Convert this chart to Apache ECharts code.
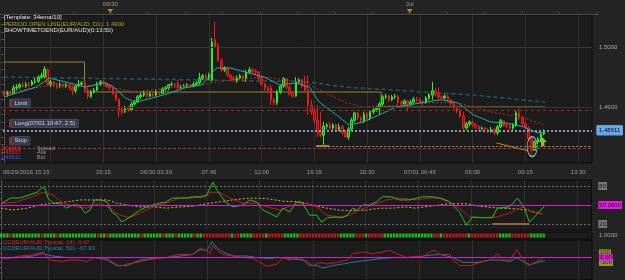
<!DOCTYPE html>
<html><head><meta charset="utf-8">
<script src="https://cdn.jsdelivr.net/npm/echarts@6/dist/echarts.min.js"></script>
<style>html,body{margin:0;padding:0;background:#242424}#c{width:625px;height:280px}</style>
</head><body><div id="c"></div><script>
// ---------- data ----------
const timeLabels = ['06/29/2016 15:15','23:15','06/30 03:30','07:45','12:00','16:15','20:30','07/01 00:45','05:00','09:15','13:30'];
const timeLabelPos = [7.15,32,49,66,83,100,117,134,151,168,185];
const gridPos = [15,32,49,66,83,100,117,134,151,168,185];
const dayLabels = ['06/30','Jul'];
const dayPos = [35,131];
const topTicks = [-1,11,23,35,47,59,71,83,95,107,119,131,143,155,167,179,191];
const priceTicks = [1.49,1.50];
const headerLines = ['[Template: 34ema/10]','PERIOD OPEN LINE(EUR/AUD, D1): 1.4900','SHOWTIMETOEND(EUR/AUD)(0:13:50)'];
const quoteValues = ['2.00000','1.48637','1.48611'];
const quoteNames = ['Spread','Ask','Bid'];
const cciNames = ['CCI(EUR/AUD,Typical, 14): 0.47','CCI(EUR/AUD,Typical, 50): -67.93'];

// [open, close, low, high]
const candles = [
[1.4927,1.4922,1.4918,1.4928],[1.4922,1.4925,1.4917,1.4927],[1.4925,1.4923,1.4920,1.4928],[1.4923,1.4932,1.4922,1.4937],[1.4932,1.4933,1.4928,1.4938],
[1.4933,1.4937,1.4930,1.4940],[1.4937,1.4935,1.4932,1.4942],[1.4935,1.4938,1.4932,1.4942],[1.4938,1.4937,1.4933,1.4942],[1.4937,1.4942,1.4935,1.4945],
[1.4942,1.4943,1.4938,1.4948],[1.4943,1.4950,1.4940,1.4953],[1.4950,1.4952,1.4947,1.4957],[1.4950,1.4963,1.4947,1.4968],[1.4962,1.4938,1.4935,1.4965],
[1.4938,1.4942,1.4933,1.4945],[1.4942,1.4937,1.4933,1.4943],[1.4937,1.4935,1.4930,1.4940],[1.4935,1.4938,1.4932,1.4942],[1.4938,1.4935,1.4932,1.4940],
[1.4935,1.4937,1.4932,1.4940],[1.4937,1.4932,1.4928,1.4938],[1.4932,1.4927,1.4920,1.4935],[1.4927,1.4935,1.4923,1.4938],[1.4935,1.4938,1.4933,1.4945],
[1.4938,1.4940,1.4935,1.4943],[1.4940,1.4928,1.4925,1.4942],[1.4928,1.4917,1.4913,1.4932],[1.4917,1.4925,1.4915,1.4928],[1.4925,1.4928,1.4923,1.4932],
[1.4928,1.4938,1.4927,1.4942],[1.4938,1.4942,1.4935,1.4945],[1.4942,1.4940,1.4937,1.4945],[1.4940,1.4935,1.4932,1.4942],[1.4935,1.4932,1.4928,1.4938],
[1.4932,1.4923,1.4920,1.4933],[1.4923,1.4913,1.4910,1.4925],[1.4913,1.4895,1.4883,1.4915],[1.4895,1.4892,1.4887,1.4900],[1.4892,1.4898,1.4890,1.4902],
[1.4898,1.4895,1.4892,1.4902],[1.4895,1.4905,1.4893,1.4908],[1.4905,1.4908,1.4902,1.4912],[1.4908,1.4917,1.4907,1.4920],[1.4917,1.4920,1.4913,1.4923],
[1.4920,1.4923,1.4917,1.4927],[1.4923,1.4918,1.4915,1.4925],[1.4918,1.4922,1.4917,1.4925],[1.4922,1.4920,1.4917,1.4923],[1.4920,1.4925,1.4918,1.4928],
[1.4925,1.4923,1.4920,1.4927],[1.4923,1.4930,1.4922,1.4933],[1.4930,1.4932,1.4927,1.4935],[1.4932,1.4937,1.4928,1.4938],[1.4937,1.4938,1.4935,1.4942],
[1.4938,1.4937,1.4933,1.4940],[1.4940,1.4932,1.4928,1.4945],[1.4932,1.4933,1.4930,1.4937],[1.4933,1.4935,1.4932,1.4938],[1.4935,1.4937,1.4933,1.4940],
[1.4937,1.4935,1.4932,1.4938],[1.4935,1.4938,1.4933,1.4942],[1.4938,1.4940,1.4935,1.4943],[1.4940,1.4948,1.4937,1.4957],[1.4948,1.4952,1.4945,1.4955],
[1.4952,1.4948,1.4945,1.4955],[1.4948,1.4953,1.4945,1.4957],[1.4945,1.5008,1.4942,1.5015],[1.5012,1.5000,1.4998,1.5042],[1.5003,1.4978,1.4975,1.5007],
[1.4978,1.4962,1.4958,1.4982],[1.4962,1.4965,1.4958,1.4968],[1.4965,1.4953,1.4950,1.4967],[1.4953,1.4948,1.4945,1.4955],[1.4948,1.4945,1.4942,1.4952],
[1.4945,1.4948,1.4940,1.4952],[1.4948,1.4952,1.4945,1.4955],[1.4952,1.4947,1.4942,1.4953],[1.4947,1.4958,1.4942,1.4962],[1.4958,1.4962,1.4955,1.4967],
[1.4962,1.4960,1.4955,1.4965],[1.4960,1.4958,1.4953,1.4963],[1.4958,1.4948,1.4945,1.4960],[1.4948,1.4938,1.4935,1.4952],[1.4938,1.4932,1.4927,1.4940],
[1.4932,1.4928,1.4923,1.4935],[1.4932,1.4912,1.4903,1.4937],[1.4912,1.4907,1.4902,1.4915],[1.4907,1.4925,1.4903,1.4928],[1.4925,1.4935,1.4922,1.4938],
[1.4935,1.4947,1.4932,1.4950],[1.4947,1.4933,1.4930,1.4948],[1.4933,1.4922,1.4918,1.4937],[1.4922,1.4918,1.4915,1.4925],[1.4918,1.4942,1.4917,1.4950],
[1.4942,1.4945,1.4938,1.4948],[1.4945,1.4935,1.4932,1.4947],[1.4935,1.4928,1.4925,1.4952],[1.4928,1.4903,1.4887,1.4953],[1.4903,1.4892,1.4887,1.4912],
[1.4892,1.4878,1.4872,1.4898],[1.4878,1.4858,1.4850,1.4903],[1.4858,1.4853,1.4850,1.4892],[1.4853,1.4868,1.4837,1.4875],[1.4868,1.4870,1.4863,1.4873],
[1.4870,1.4865,1.4862,1.4875],[1.4865,1.4870,1.4862,1.4873],[1.4870,1.4863,1.4860,1.4872],[1.4863,1.4867,1.4860,1.4872],[1.4867,1.4857,1.4853,1.4870],
[1.4857,1.4850,1.4848,1.4862],[1.4850,1.4863,1.4845,1.4867],[1.4863,1.4878,1.4860,1.4882],[1.4878,1.4890,1.4875,1.4892],[1.4890,1.4882,1.4878,1.4892],
[1.4882,1.4877,1.4873,1.4885],[1.4877,1.4888,1.4873,1.4892],[1.4888,1.4882,1.4878,1.4892],[1.4882,1.4892,1.4878,1.4895],[1.4892,1.4895,1.4888,1.4898],
[1.4895,1.4898,1.4892,1.4902],[1.4898,1.4905,1.4887,1.4908],[1.4905,1.4917,1.4902,1.4920],[1.4917,1.4918,1.4913,1.4922],[1.4918,1.4912,1.4908,1.4920],
[1.4912,1.4917,1.4910,1.4920],[1.4917,1.4918,1.4913,1.4922],[1.4918,1.4908,1.4902,1.4920],[1.4908,1.4905,1.4900,1.4912],[1.4905,1.4910,1.4902,1.4913],
[1.4910,1.4905,1.4892,1.4912],[1.4905,1.4908,1.4902,1.4912],[1.4908,1.4913,1.4905,1.4917],[1.4913,1.4912,1.4908,1.4917],[1.4912,1.4908,1.4905,1.4915],
[1.4908,1.4907,1.4903,1.4912],[1.4907,1.4915,1.4905,1.4918],[1.4915,1.4920,1.4912,1.4923],[1.4920,1.4927,1.4912,1.4942],[1.4927,1.4922,1.4918,1.4932],
[1.4922,1.4917,1.4913,1.4933],[1.4917,1.4915,1.4912,1.4920],[1.4915,1.4918,1.4912,1.4922],[1.4918,1.4912,1.4908,1.4920],[1.4912,1.4905,1.4902,1.4913],
[1.4905,1.4898,1.4895,1.4908],[1.4898,1.4893,1.4890,1.4902],[1.4893,1.4885,1.4882,1.4897],[1.4885,1.4865,1.4862,1.4892],[1.4865,1.4872,1.4862,1.4875],
[1.4872,1.4875,1.4868,1.4878],[1.4875,1.4870,1.4867,1.4877],[1.4870,1.4867,1.4863,1.4873],[1.4867,1.4863,1.4860,1.4870],[1.4863,1.4865,1.4862,1.4868],
[1.4865,1.4862,1.4858,1.4867],[1.4862,1.4860,1.4857,1.4865],[1.4860,1.4863,1.4857,1.4867],[1.4863,1.4857,1.4853,1.4865],[1.4857,1.4867,1.4853,1.4870],
[1.4867,1.4877,1.4865,1.4880],[1.4877,1.4870,1.4867,1.4878],[1.4870,1.4868,1.4865,1.4873],[1.4868,1.4865,1.4862,1.4872],[1.4865,1.4870,1.4862,1.4873],
[1.4870,1.4890,1.4867,1.4895],[1.4890,1.4882,1.4878,1.4898],[1.4882,1.4872,1.4868,1.4885],[1.4872,1.4865,1.4862,1.4875],[1.4865,1.4847,1.4843,1.4868],
[1.4847,1.4828,1.4820,1.4850],[1.4828,1.4842,1.4827,1.4845],[1.4842,1.4847,1.4838,1.4850],[1.4847,1.4855,1.4843,1.4858],[1.4855,1.48611,1.4853,1.4863]
];

const emaFast = [[0,1.4917],[10.2,1.4933],[14.7,1.4948],[21.1,1.4940],[26.2,1.4933],[31.7,1.4940],[34.9,1.4935],[39.1,1.4915],[42.3,1.4908],[47.7,1.4915],[53.2,1.4923],[58.3,1.4932],[63.8,1.4937],[66,1.4950],[67.5,1.4960],[68.6,1.4965],[72.8,1.4965],[83.7,1.4950],[88.8,1.4937],[94.2,1.4940],[98.4,1.4933],[101.6,1.4908],[107.1,1.4887],[111.2,1.4870],[115.7,1.4875],[120.9,1.4887],[126.3,1.4900],[130.1,1.4903],[135.3,1.4908],[140.7,1.4912],[146.2,1.4907],[151.3,1.4887],[156.8,1.4875],[162.2,1.4873],[167.4,1.4867],[171.8,1.4857],[174.4,1.4858]];
const emaSlow = [[0,1.4923],[15.7,1.4937],[31.7,1.4935],[42.3,1.4925],[53.2,1.4932],[63.8,1.4937],[72.8,1.4945],[83.7,1.4950],[97.4,1.4940],[104.8,1.4920],[110.3,1.4907],[115.7,1.4900],[126.3,1.4903],[135.3,1.4907],[146.2,1.4907],[156.8,1.4892],[167.4,1.4882],[174.4,1.4870]];
const trendLong = [[0,1.4950],[63.8,1.4945],[97.4,1.4942],[110.3,1.4933],[126.3,1.4928],[135.3,1.4925],[151.3,1.4920],[174.4,1.4908]];
const periodOpen = [[0,1.4975],[25.9,1.4975],[25.9,1.4925],[121.5,1.4925],[121.5,1.4900],[174.4,1.4900]];
const limitPrice = 1.4895, longPrice = 1.4861, stopPrice = 1.4832, bidPrice = 1.48611;
const orangeLevel = [100.6, 104.8, 1.4835];
const orangeTrend = [[158.7,1.4840],[169,1.4827]];
const ellipseMark = [170.2,1.4834];
const arrowMark = [173.6,1.4842];

const stochK = [[0,52],[3,61],[6,61],[9,66],[11.5,70],[13,77],[14,77],[15,61],[16.6,53],[19,52],[21,45],[23,50],[25,50],[27,37],[28.5,42],[30,58],[32,58],[34,55],[35.5,39],[37,34],[38.7,23],[39.7,26],[42.3,34],[44.5,42],[46.8,47],[48.7,50],[51,53],[53,55],[55,61],[57.3,61],[59.6,61],[61.5,63],[64,63],[66,66],[68,86],[69.2,74],[70.8,63],[72.4,53],[74.4,47],[77.6,50],[79.8,58],[82,55],[84,42],[86.2,37],[88.5,31],[90.4,45],[92.6,39],[94.9,55],[96.8,53],[99,34],[101.3,34],[102.9,23],[104.8,30],[107.7,31],[109.6,30],[111.2,34],[112.8,45],[114.4,42],[116,50],[118.3,50],[120.5,55],[122.4,63],[125.3,63],[127.9,58],[131.1,58],[133.7,61],[135.3,63],[138.5,63],[140.7,61],[143.9,55],[147.1,39],[149.4,18],[151.3,31],[154.5,30],[157.7,30],[159.3,45],[163.2,47],[165.8,61],[168,45],[169.6,23],[171.8,34],[173.8,45],[174.4,47]];
const stochD = [[0,52],[5,55],[10,63],[13.4,70],[16.6,66],[19.8,53],[24.3,47],[27.5,45],[31.7,53],[34.9,45],[38.1,34],[41.3,30],[44.5,37],[48.7,47],[53.2,53],[57.3,61],[61.5,61],[66,63],[67,70],[70.2,70],[73.4,61],[77.6,53],[82,53],[85.3,47],[89.4,42],[93.6,50],[98.1,53],[101.3,47],[104.5,34],[108.7,31],[111.9,34],[115.1,42],[119.2,50],[123.7,58],[127.9,61],[133.4,58],[137.5,61],[141.7,61],[143.9,55],[147.1,45],[150.4,31],[154.5,30],[159,31],[163.2,37],[167.4,47],[170.6,39],[173.8,36]];
const stochSig = [[0,45],[3.8,42],[8.3,45],[12.4,50],[16.6,53],[21.1,55],[25.3,58],[29.5,58],[34,58],[37.1,53],[40.3,50],[44.5,47],[48.7,47],[53.2,45],[57.3,47],[61.5,48],[66,52],[70.2,55],[74.4,58],[79.8,61],[85.3,60],[90.4,56],[95.8,55],[100,50],[104.5,45],[108.7,42],[112.8,41],[117.3,42],[121.5,45],[125.6,45],[130.1,47],[133,45],[137.5,48],[143.9,52],[149.4,52],[153.6,48],[160,45],[165.4,44],[169.6,41],[173.8,36]];
const stochOrange = [[157.7,20],[169.6,20]];
const stochLevels = [20,50,80];
const stochTicks = [20,30,40,50,60,70,80];

const stripSignal = 'GGGRGGGGGG'+'GGGRGGGGRG'+'GGGGGGGGGG'+'GRGGRGGGGG'+'GGGGGRGGGG'+'GGRGGGRGGG'+'GGRGGRRRRR'+'RRRRGRRGGG'+'GRRRRGRRRR'+'RGGGGGRRRR'+'RRRRRRRRRG'+'GGGGRRRGRR'+'RRRGGGGGGG'+'GGGGGGGGGR'+'RGRRRRRRRR'+'GRRRRRRRRR'+'GGGGRRRRRR'+'GGGGG';

const cci14 = [[0,0],[2,-17],[6,33],[9.2,50],[11.5,83],[13.4,117],[15.7,-50],[19.8,-83],[22,-50],[25.3,-50],[27.5,-83],[30,0],[34,-17],[35.9,-100],[38.1,-183],[40.3,-133],[43.6,-100],[46.8,-50],[50,-17],[53.2,0],[56.4,67],[61.5,67],[63.8,200],[65.4,150],[67,83],[67.9,250],[69.2,150],[71.1,67],[74.4,33],[77.6,0],[80.8,-17],[83,-100],[85.3,-183],[88.5,-133],[90.4,0],[92.6,-50],[95.8,0],[98.1,-83],[100,-167],[102.2,-100],[104.5,-133],[107.7,-100],[110.9,-50],[112.8,83],[116,117],[119.2,83],[122.4,117],[124.7,150],[126.9,83],[130.1,0],[133.4,33],[135,17],[137.5,117],[139.1,150],[140.7,67],[143.9,67],[144.9,-50],[147.1,-167],[150.4,-167],[153.6,-100],[156.8,-50],[159.3,83],[160.9,-50],[163.2,-50],[165.4,167],[167,0],[169,-167],[171.8,-83],[173.8,0],[174.4,0.47]];
const cci50 = [[0,-17],[5,0],[10.2,33],[13.4,83],[16.6,33],[21.1,0],[25.3,0],[30,0],[34,-50],[37.1,-167],[40.3,-167],[44.5,-50],[48.7,-17],[53.2,0],[57.3,33],[61.5,67],[63.8,167],[66,150],[67.6,333],[69.2,200],[71.1,117],[74.4,33],[78.8,33],[82,0],[85.3,-17],[89.4,0],[93.6,-33],[96.8,-50],[99,-167],[101.3,-167],[103.2,-217],[106.4,-167],[109.6,-133],[114.1,-83],[118.3,-50],[122.4,-17],[125.6,0],[130.1,0],[133.7,17],[137.5,50],[140.7,67],[144.9,0],[148.1,-100],[152.6,-100],[156.8,-50],[160,-50],[163.2,-83],[165.4,0],[167.4,-83],[169.6,-150],[172.8,-83],[174.4,-67.93]];
const cciLevels = [-100,0,100];
const cciTicks = [-300,-200,-100,0,100,200,300];

// ---------- chart ----------
const FONT = 'Liberation Sans';
const XMIN = -0.385, XMAX = 189.48;
const priceMinor = [];
for (let v = 1.48125; v < 1.5053; v += 0.00125) priceMinor.push(+v.toFixed(5));

function xAx(gi, extra) {
  return Object.assign({
    type: 'value', gridIndex: gi, min: XMIN, max: XMAX,
    axisLine: {show: false},
    axisTick: {show: false, customValues: gridPos},
    axisLabel: {show: false},
    splitLine: {show: true, lineStyle: {color: '#303030', width: 1}}
  }, extra || {});
}
function yAx(gi, min, max, extra) {
  return Object.assign({
    type: 'value', gridIndex: gi, position: 'right', min: min, max: max, offset: 5,
    axisLine: {show: true, lineStyle: {color: '#555'}},
    axisTick: {show: true, inside: true, length: 3, lineStyle: {color: '#555'}},
    splitLine: {show: false}
  }, extra || {});
}
const gridStyle = {show: true, backgroundColor: '#1c1c1c', borderColor: '#0a0a0a', borderWidth: 1};
function lbl(text) {
  return {show: true, position: 'insideStartTop', distance: [6, 3], formatter: '{a|}{b|' + text + '}',
    rich: {a: {width: 2.5, height: 8, backgroundColor: '#8c2a2a'},
           b: {height: 8, padding: [0, 3], backgroundColor: '#3a3c52', borderColor: '#55576d', borderWidth: 0.5, color: '#d8d8d8', fontSize: 6, fontFamily: FONT}}};
}
const noLbl = {show: false};
function hLine(price, style, label) {
  return [{coord: [XMIN, price], lineStyle: style, label: label || noLbl}, {coord: [XMAX, price]}];
}
function boxLabel(text, bg, fg, dist) {
  return {show: true, position: 'end', distance: dist, formatter: text, backgroundColor: bg, color: fg,
    padding: [0, 1], fontSize: 6, fontFamily: FONT, lineHeight: 7};
}
const hidden = {color: 'rgba(0,0,0,0)', width: 0.1, type: 'solid'};

const option = {
  backgroundColor: '#242424',
  animation: false,
  grid: [
    {left: 0, right: 27, top: 8, height: 6, show: false},
    Object.assign({left: 0, right: 33, top: 15, height: 148}, gridStyle),
    Object.assign({left: 0, right: 33, top: 180, height: 50}, gridStyle),
    Object.assign({left: 0, right: 33, top: 232, height: 7}, gridStyle),
    Object.assign({left: 0, right: 33, top: 240, height: 50}, gridStyle)
  ],
  xAxis: [
    {type: 'value', gridIndex: 0, position: 'top', min: XMIN, max: 191.4,
     axisLine: {show: true, lineStyle: {color: '#4a4a4a'}},
     axisTick: {show: true, length: 2, customValues: topTicks, lineStyle: {color: '#4a4a4a'}},
     axisLabel: {customValues: dayPos, formatter: v => dayLabels[dayPos.indexOf(v)], color: '#9a9a9a', fontSize: 6, fontFamily: FONT, margin: 1},
     splitLine: {show: false}},
    xAx(1, {axisLabel: {show: true, customValues: timeLabelPos, formatter: v => timeLabels[timeLabelPos.indexOf(v)], color: '#9c9c9c', fontSize: 6, fontFamily: FONT, margin: 6}}),
    xAx(2), xAx(3, {splitLine: {show: false}}), xAx(4)
  ],
  yAxis: [
    {type: 'value', gridIndex: 0, min: 0, max: 1, show: false},
    yAx(1, 1.48067, 1.50533, {
      axisTick: {show: true, inside: true, length: 3, customValues: priceMinor, lineStyle: {color: '#555'}},
      axisLabel: {customValues: priceTicks, formatter: v => v.toFixed(4), color: '#a8a8a8', fontSize: 6, fontFamily: FONT, margin: 2}}),
    yAx(2, 10.53, 89.47, {
      axisTick: {show: true, inside: true, length: 3, customValues: stochTicks, lineStyle: {color: '#555'}},
      axisLabel: {customValues: stochLevels, fontSize: 6, fontFamily: FONT, margin: 2, hideOverlap: false,
        formatter: v => v === 50 ? '{m|50.0000}' : '{g|' + v + '}',
        rich: {m: {backgroundColor: '#e01ee0', color: '#300030', padding: [1, 1], fontSize: 6, fontFamily: FONT},
               g: {backgroundColor: '#777', color: '#1a1a1a', padding: [1, 1], fontSize: 6, fontFamily: FONT}}}}),
    yAx(3, 0, 2, {
      axisTick: {show: false, customValues: [1]},
      axisLabel: {customValues: [1], formatter: () => '1.0000', color: '#a0a0a0', fontSize: 6, fontFamily: FONT, margin: 2}}),
    yAx(4, -466.67, 366.67, {
      axisTick: {show: true, inside: true, length: 3, customValues: cciTicks, lineStyle: {color: '#555'}},
      axisLabel: {show: false}})
  ],
  graphic: [
    {type: 'text', x: 4, y: 14.5, style: {text: headerLines[0], fill: '#e4e4e4', fontSize: 6, fontFamily: FONT}, z: 100},
    {type: 'text', x: 4, y: 21, style: {text: headerLines[1], fill: '#a6a232', fontSize: 6, fontFamily: FONT}, z: 100},
    {type: 'text', x: 4, y: 27.5, style: {text: headerLines[2], fill: '#e4e4e4', fontSize: 6, fontFamily: FONT}, z: 100},
    {type: 'text', x: 1, y: 145, style: {text: quoteValues[0], fill: '#ff2222', fontSize: 5.5, fontFamily: FONT}, z: 100},
    {type: 'text', x: 1, y: 149.5, style: {text: quoteValues[1], fill: '#ff2222', fontSize: 5.5, fontFamily: FONT}, z: 100},
    {type: 'text', x: 1, y: 154, style: {text: quoteValues[2], fill: '#3355ff', fontSize: 5.5, fontFamily: FONT}, z: 100},
    {type: 'text', x: 37, y: 145, style: {text: quoteNames[0], fill: '#9a9a9a', fontSize: 5.5, fontFamily: FONT}, z: 100},
    {type: 'text', x: 37, y: 149.5, style: {text: quoteNames[1], fill: '#9a9a9a', fontSize: 5.5, fontFamily: FONT}, z: 100},
    {type: 'text', x: 37, y: 154, style: {text: quoteNames[2], fill: '#9a9a9a', fontSize: 5.5, fontFamily: FONT}, z: 100},
    {type: 'text', x: 3, y: 239, style: {text: cciNames[0], fill: '#e02222', fontSize: 6, fontFamily: FONT}, z: 100},
    {type: 'text', x: 3, y: 245, style: {text: cciNames[1], fill: '#2a86b8', fontSize: 6, fontFamily: FONT}, z: 100}
  ],
  series: [
    {type: 'scatter', xAxisIndex: 0, yAxisIndex: 0, symbol: 'triangle', symbolRotate: 180, symbolSize: [6, 4],
     itemStyle: {color: '#d8a020'}, data: dayPos.map(p => [p, 0.5]), silent: true},
    {type: 'line', xAxisIndex: 1, yAxisIndex: 1, data: trendLong, showSymbol: false, z: 2,
     lineStyle: {color: '#1e5c5c', width: 1.5, type: [4, 3]}},
    {type: 'line', xAxisIndex: 1, yAxisIndex: 1, data: periodOpen, showSymbol: false, z: 2,
     lineStyle: {color: '#8c8a26', width: 1},
     markLine: {symbol: ['none', 'none'], silent: true, animation: false, data: [
       hLine(priceTicks[0], {color: '#353535', type: 'solid', width: 1}),
       hLine(priceTicks[1], {color: '#353535', type: 'solid', width: 1}),
       hLine(limitPrice, {color: '#b41e1e', type: [3, 3], width: 1}, lbl('Limit')),
       hLine(longPrice, {color: '#8e98b8', type: [2, 2], width: 2}, lbl('Long(07/01 10:47, 2.5)')),
       hLine(stopPrice, {color: '#9c3452', type: [3, 2], width: 1}, lbl('Stop')),
       [{coord: [orangeLevel[0], orangeLevel[2]], lineStyle: {color: '#d08a30', type: [2, 2], width: 1}, label: noLbl}, {coord: [XMAX, orangeLevel[2]]}],
       [{coord: [orangeLevel[0], orangeLevel[2]], lineStyle: {color: '#d89a40', type: 'solid', width: 1.5}, label: noLbl}, {coord: [orangeLevel[1], orangeLevel[2]]}],
       [{coord: orangeTrend[0], lineStyle: {color: '#c8802c', type: 'solid', width: 1}, label: noLbl}, {coord: orangeTrend[1]}],
       hLine(bidPrice, hidden, Object.assign(boxLabel(String(bidPrice), '#62aaee', '#0a0a0a', 5), {padding: [1, 2], borderColor: '#a6d4ff', borderWidth: 0.5}))
     ]}},
    {type: 'candlestick', xAxisIndex: 1, yAxisIndex: 1, barWidth: 2, z: 3,
     data: candles.map((c, i) => [i, c[0], c[1], c[2], c[3]]),
     encode: {x: 0, y: [1, 2, 3, 4]},
     itemStyle: {color: '#15901a', color0: '#9a0c0c', borderColor: '#2cf02c', borderColor0: '#ee1c1c', borderWidth: 1}},
    {type: 'line', xAxisIndex: 1, yAxisIndex: 1, data: emaSlow, showSymbol: false, z: 4,
     lineStyle: {color: '#c0282a', width: 1, type: [2, 2]}},
    {type: 'line', xAxisIndex: 1, yAxisIndex: 1, data: emaFast, showSymbol: false, z: 4,
     lineStyle: {color: '#2aa8a8', width: 1}},
    {type: 'scatter', xAxisIndex: 1, yAxisIndex: 1, data: [ellipseMark], symbol: 'circle', symbolSize: [10, 20], z: 5,
     itemStyle: {color: 'rgba(0,0,0,0)', borderColor: '#b8e8ee', borderWidth: 1}, silent: true},
    {type: 'scatter', xAxisIndex: 1, yAxisIndex: 1, data: [arrowMark], z: 6,
     symbol: 'path://M4,0 L8,4 L5.5,4 L5.5,8 L2.5,8 L2.5,4 L0,4 Z', symbolSize: [7, 8],
     itemStyle: {color: '#a8e038', borderColor: '#e8ff9a', borderWidth: 0.5}, silent: true},
    // stochastic panel
    {type: 'line', xAxisIndex: 2, yAxisIndex: 2, data: stochSig, showSymbol: false, z: 2,
     lineStyle: {color: '#c8c020', width: 1, type: [2, 2]},
     markLine: {symbol: ['none', 'none'], silent: true, label: noLbl, data: [
       {yAxis: stochLevels[2], lineStyle: {color: '#6a6a6a', type: [2, 2], width: 1}},
       {yAxis: stochLevels[0], lineStyle: {color: '#6a6a6a', type: [2, 2], width: 1}},
       {yAxis: stochLevels[1], lineStyle: {color: '#d21ed2', type: 'solid', width: 1}}
     ]}},
    {type: 'line', xAxisIndex: 2, yAxisIndex: 2, data: stochOrange, showSymbol: false, z: 3,
     lineStyle: {color: '#c8782a', width: 1.5}},
    {type: 'line', xAxisIndex: 2, yAxisIndex: 2, data: stochD, showSymbol: false, z: 3,
     lineStyle: {color: '#c41818', width: 1}},
    {type: 'line', xAxisIndex: 2, yAxisIndex: 2, data: stochK, showSymbol: false, z: 4,
     lineStyle: {color: '#22c422', width: 1}},
    // signal strip
    {type: 'scatter', xAxisIndex: 3, yAxisIndex: 3, symbol: 'rect', symbolSize: [2.3, 4], silent: true,
     data: stripSignal.split('').map((s, i) => ({value: [i, 1], itemStyle: {color: s === 'G' ? '#1ee41e' : '#e41818'}}))},
    // CCI panel
    {type: 'line', xAxisIndex: 4, yAxisIndex: 4, data: cci50, showSymbol: false, z: 3,
     lineStyle: {color: '#1e7aa8', width: 1},
     markLine: {symbol: ['none', 'none'], silent: true, data: [
       [{coord: [XMIN, cciLevels[1]], lineStyle: {color: '#d21ed2', type: 'solid', width: 1}, label: noLbl}, {coord: [XMAX, cciLevels[1]]}],
       [{coord: [XMIN, cciLevels[2]], lineStyle: hidden, label: boxLabel(String(cciLevels[2]), '#9a9a22', '#1a1a1a', 7)}, {coord: [XMAX, cciLevels[2]]}],
       [{coord: [XMIN, cciLevels[0]], lineStyle: hidden, label: boxLabel(String(cciLevels[0]), '#9a9a22', '#1a1a1a', 7)}, {coord: [XMAX, cciLevels[0]]}],
       [{coord: [XMIN, cciLevels[1]], lineStyle: hidden, label: boxLabel('0.00', '#e01ee0', '#300030', 7)}, {coord: [XMAX, cciLevels[1]]}]
     ]}},
    {type: 'line', xAxisIndex: 4, yAxisIndex: 4, data: cci14, showSymbol: false, z: 4,
     lineStyle: {color: '#cc1818', width: 1}}
  ]
};
const chart = echarts.init(document.getElementById('c'));
chart.setOption(option);
</script></body></html>
